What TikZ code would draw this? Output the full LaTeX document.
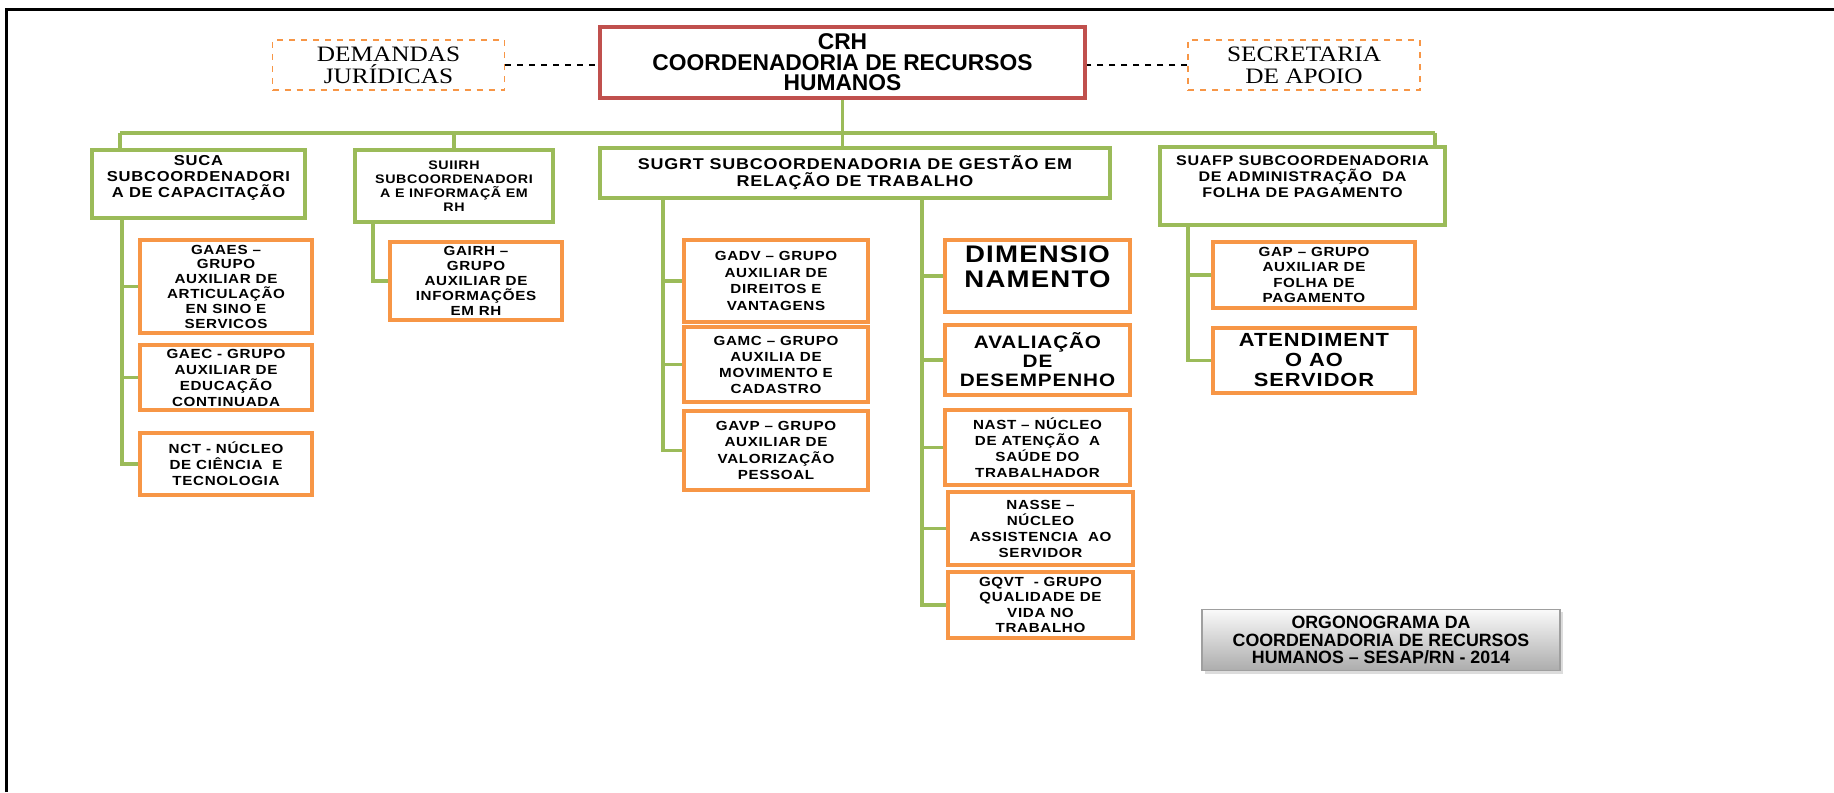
\documentclass[tikz,border=0pt]{standalone}
\usepackage{fontspec}
\setmainfont{Liberation Sans}
\newfontfamily\boxfont[FakeStretch=1.15,LetterSpace=5]{Liberation Sans}
\newfontfamily\headfont{Liberation Sans}
\newfontfamily\sidefont[FakeStretch=1.15]{Liberation Serif}
\usetikzlibrary{positioning,shadows}

\definecolor{subgreen}{HTML}{9BBB59}
\definecolor{childorange}{HTML}{F79646}
\definecolor{headred}{HTML}{C0504D}

\begin{document}
\begin{tikzpicture}[%
    x={(0.5pt,0)},
    y={(0,-0.5pt)},
    headbox/.style={draw=headred, line width=2pt, align=center, inner sep=1pt,
      font=\headfont\bfseries\fontsize{11.4pt}{10.3pt}\selectfont},
    sidebox/.style={draw=childorange, dashed, line width=0.6pt, align=center,
      minimum width=116pt, minimum height=25pt,
      font=\sidefont\fontsize{11pt}{11pt}\selectfont},
    subbox/.style={draw=subgreen, line width=2pt, align=center, inner sep=1pt},
    childbox/.style={draw=childorange, line width=2pt, align=center, inner sep=1pt},
    fs/.style 2 args={font=\boxfont\bfseries\fontsize{#1}{#2}\selectfont},
    link/.style={draw=subgreen, line width=1.6pt},
    sidelink/.style={dashed, line width=0.6pt}
  ]
  \useasboundingbox (0,0) rectangle (1834,792);

  % frame
  \draw[line width=1.5pt] (6,792) -- (6,10) -- (1834,10);

  % top level
  \node[headbox, minimum width=242.5pt, minimum height=35.5pt] (crh) at (842.5,62.5)
    {CRH\\COORDENADORIA DE RECURSOS\\HUMANOS};
  \node[sidebox] (jur) at (388.5,65) {DEMANDAS\\JURÍDICAS};
  \node[sidebox] (apoio) at (1304,65) {SECRETARIA\\DE APOIO};

  \draw[sidelink] (jur.east) -- (jur.east -| crh.west);
  \draw[sidelink] (apoio.west) -- (apoio.west -| crh.east);

  % subcoordenadorias
  \node[subbox, fs={7.2pt}{8pt}, text depth=8pt, minimum width=106.5pt, minimum height=34pt] (suca) at (198.5,184)
    {SUCA\\SUBCOORDENADORI\\A DE CAPACITAÇÃO};
  \node[subbox, fs={6.2pt}{7pt}, minimum width=99pt, minimum height=36pt] (suiirh) at (454,186)
    {SUIIRH\\SUBCOORDENADORI\\A E INFORMAÇÃ EM\\RH};
  \node[subbox, fs={7.8pt}{8.5pt}, minimum width=255pt, minimum height=25pt] (sugrt) at (855,173)
    {SUGRT SUBCOORDENADORIA DE GESTÃO EM\\RELAÇÃO DE TRABALHO};
  \node[subbox, fs={7pt}{8pt}, text depth=9pt, minimum width=142.5pt, minimum height=39pt] (suafp) at (1302.5,186)
    {SUAFP SUBCOORDENADORIA\\DE ADMINISTRAÇÃO\ \ DA\\FOLHA DE PAGAMENTO};

  % bus
  \coordinate (busL) at (120,133);
  \coordinate (busR) at (1435,133);
  \draw[link] (crh.south) -- (crh.south |- busL);
  \draw[link] (busL) -- (busR);
  \draw[link] (busL) -- (busL |- suca.north);
  \draw[link] (suiirh.north) -- (suiirh.north |- busL);
  \draw[link] (sugrt.north -| crh.south) -- (crh.south |- busL);
  \draw[link] (busR) -- (busR |- suafp.north);

  % SUCA groups
  \node[childbox, fs={6.6pt}{7.4pt}, minimum width=86pt, minimum height=46.5pt] (gaaes) at (226,286.5)
    {GAAES –\\GRUPO\\AUXILIAR DE\\ARTICULAÇÃO\\EN SINO E\\SERVICOS};
  \node[childbox, fs={6.6pt}{8pt}, minimum width=86pt, minimum height=32.5pt] (gaec) at (226,377.5)
    {GAEC - GRUPO\\AUXILIAR DE\\EDUCAÇÃO\\CONTINUADA};
  \node[childbox, fs={6.6pt}{8pt}, minimum width=86pt, minimum height=31pt] (nct) at (226,464)
    {NCT - NÚCLEO\\DE CIÊNCIA\ \ E\\TECNOLOGIA};

  \coordinate (sucaspine) at (122,0);
  \draw[link] (suca.south -| sucaspine) |- (nct.west);
  \foreach \n in {gaaes,gaec}
    \draw[link] (\n.west) -- (\n.west -| sucaspine);

  % SUIIRH group
  \node[childbox, fs={6.6pt}{7.5pt}, minimum width=86pt, minimum height=39pt] (gairh) at (476,281)
    {GAIRH –\\GRUPO\\AUXILIAR DE\\INFORMAÇÕES\\EM RH};
  \coordinate (suiirhspine) at (373,0);
  \draw[link] (suiirh.south -| suiirhspine) |- (gairh.west);

  % SUGRT groups, left
  \node[childbox, fs={6.6pt}{8.2pt}, minimum width=92pt, minimum height=41pt] (gadv) at (776,281)
    {GADV – GRUPO\\AUXILIAR DE\\DIREITOS E\\VANTAGENS};
  \node[childbox, fs={6.6pt}{8pt}, minimum width=92pt, minimum height=37.5pt] (gamc) at (776,364.5)
    {GAMC – GRUPO\\AUXILIA DE\\MOVIMENTO E\\CADASTRO};
  \node[childbox, fs={6.6pt}{8.2pt}, minimum width=92pt, minimum height=39.5pt] (gavp) at (776,450.5)
    {GAVP – GRUPO\\AUXILIAR DE\\VALORIZAÇÃO\\PESSOAL};

  \coordinate (leftspine) at (663,0);
  \draw[link] (sugrt.south -| leftspine) |- (gavp.west);
  \foreach \n in {gadv,gamc}
    \draw[link] (\n.west) -- (\n.west -| leftspine);

  % SUGRT groups, right
  \node[childbox, fs={12pt}{12.5pt}, text depth=9pt, minimum width=92.5pt, minimum height=36pt] (dimens) at (1037.5,276)
    {DIMENSIO\\NAMENTO};
  \node[childbox, fs={9pt}{9.5pt}, minimum width=92.5pt, minimum height=35pt] (aval) at (1037.5,360)
    {AVALIAÇÃO\\DE\\DESEMPENHO};
  \node[childbox, fs={6.6pt}{8pt}, minimum width=92.5pt, minimum height=37.5pt] (nast) at (1037.5,447.5)
    {NAST – NÚCLEO\\DE ATENÇÃO\ \ A\\SAÚDE DO\\TRABALHADOR};
  \node[childbox, fs={6.6pt}{8pt}, minimum width=92.5pt, minimum height=36.5pt] (nasse) at (1040.5,528.5)
    {NASSE –\\NÚCLEO\\ASSISTENCIA\ \ AO\\SERVIDOR};
  \node[childbox, fs={6.6pt}{7.6pt}, minimum width=92.5pt, minimum height=33pt] (gqvt) at (1040.5,605)
    {GQVT\ \ - GRUPO\\QUALIDADE DE\\VIDA NO\\TRABALHO};

  \coordinate (rightspine) at (922,0);
  \draw[link] (sugrt.south -| rightspine) |- (gqvt.west);
  \foreach \n in {dimens,aval,nast,nasse}
    \draw[link] (\n.west) -- (\n.west -| rightspine);

  % SUAFP groups
  \node[childbox, fs={6.6pt}{7.6pt}, minimum width=101pt, minimum height=33pt] (gap) at (1314,275)
    {GAP – GRUPO\\AUXILIAR DE\\FOLHA DE\\PAGAMENTO};
  \node[childbox, fs={9.5pt}{10pt}, minimum width=101pt, minimum height=32.5pt] (atend) at (1314,360.5)
    {ATENDIMENT\\O AO\\SERVIDOR};

  \coordinate (suafpspine) at (1188,0);
  \draw[link] (suafp.south -| suafpspine) |- (atend.west);
  \draw[link] (gap.west) -- (gap.west -| suafpspine);

  % caption box
  \node[draw=gray!75, line width=0.8pt, top color=gray!4, bottom color=gray!65,
    drop shadow={shadow xshift=1.5pt, shadow yshift=-1.5pt, fill=gray!55},
    align=center, minimum width=179pt, minimum height=28pt,
    font=\headfont\bfseries\fontsize{8.9pt}{8.8pt}\selectfont] (caption) at (1381,640)
    {ORGONOGRAMA DA\\COORDENADORIA DE RECURSOS\\HUMANOS – SESAP/RN - 2014};
\end{tikzpicture}
\end{document}
